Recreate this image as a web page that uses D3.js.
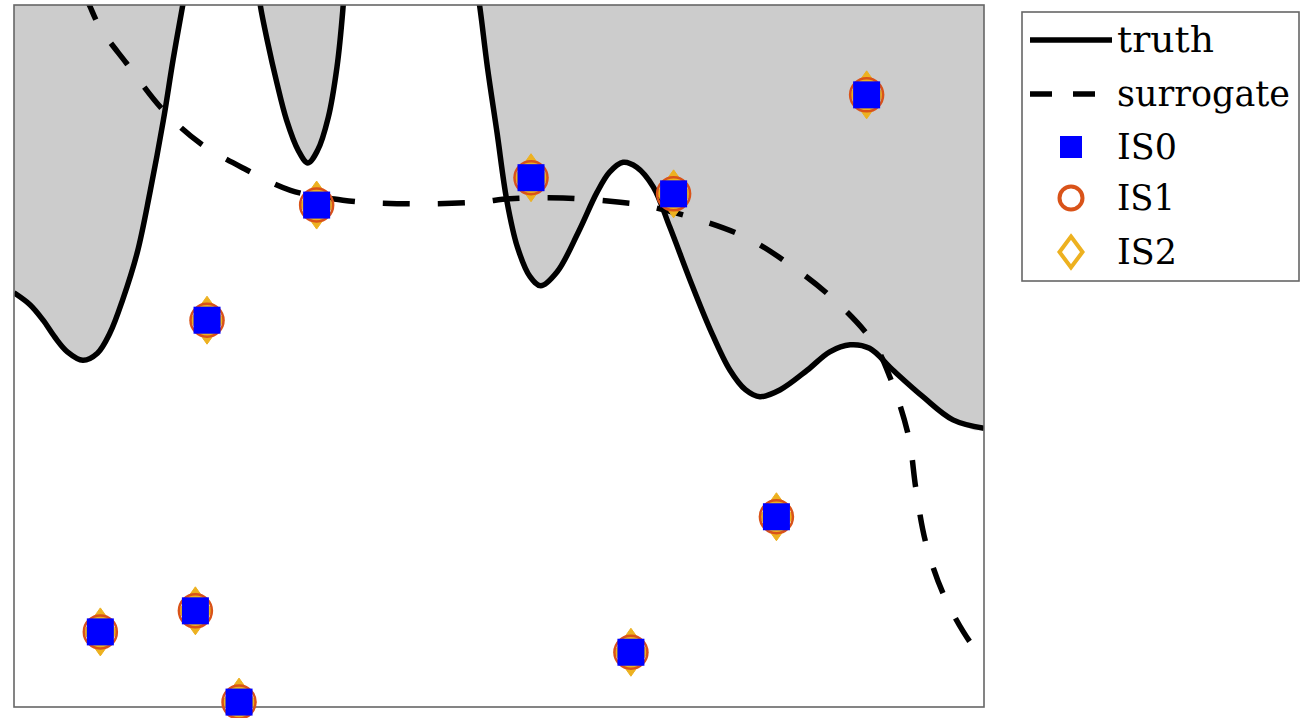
<!DOCTYPE html>
<html>
<head>
<meta charset="utf-8">
<script src="https://cdn.jsdelivr.net/npm/d3@7"></script>
<style>
  html, body { margin: 0; padding: 0; background: #ffffff; }
  svg { display: block; }
</style>
</head>
<body>
<svg id="chart" width="1312" height="718"></svg>
<script>
// ---- data (normalized domain coordinates, x in [0,1], y in [0,1]) ----
const truthA = [
  [0.000, 0.590], [0.0165, 0.573], [0.030, 0.551], [0.042, 0.527], [0.055, 0.506],
  [0.071, 0.494], [0.086, 0.504], [0.099, 0.533], [0.112, 0.580], [0.127, 0.647],
  [0.140, 0.732], [0.154, 0.836], [0.164, 0.922], [0.174, 1.000], [0.176, 1.014]
];
const truthB = [
  [0.253, 1.014], [0.254, 0.999], [0.261, 0.950], [0.271, 0.889], [0.281, 0.836],
  [0.293, 0.793], [0.303, 0.775], [0.313, 0.793], [0.324, 0.840], [0.333, 0.912],
  [0.339, 0.993], [0.340, 1.014]
];
const truthC = [
  [0.478, 1.014], [0.480, 0.999], [0.488, 0.912], [0.498, 0.818], [0.508, 0.722],
  [0.519, 0.655], [0.532, 0.613], [0.543, 0.600], [0.560, 0.620], [0.582, 0.677],
  [0.601, 0.733], [0.614, 0.762], [0.628, 0.776], [0.642, 0.769], [0.659, 0.741],
  [0.676, 0.684], [0.697, 0.608], [0.718, 0.537], [0.738, 0.480], [0.754, 0.452],
  [0.769, 0.442], [0.790, 0.452], [0.818, 0.480], [0.841, 0.506], [0.862, 0.516],
  [0.882, 0.511], [0.906, 0.480], [0.937, 0.442], [0.968, 0.409], [1.000, 0.397]
];
const surrogate = [
  [0.073, 1.014], [0.078, 0.999], [0.089, 0.967], [0.116, 0.917], [0.154, 0.850],
  [0.192, 0.803], [0.240, 0.765], [0.285, 0.736], [0.339, 0.722], [0.395, 0.717],
  [0.477, 0.719], [0.511, 0.724], [0.566, 0.725], [0.625, 0.719], [0.648, 0.715],
  [0.697, 0.698], [0.756, 0.668], [0.803, 0.627], [0.848, 0.577], [0.886, 0.519],
  [0.903, 0.470], [0.922, 0.387], [0.930, 0.309], [0.940, 0.234], [0.959, 0.158],
  [0.987, 0.090], [1.000, 0.071]
];
const samplesX = [0.312, 0.199, 0.533, 0.680, 0.879, 0.786, 0.089, 0.187, 0.232, 0.636];
const samplesY = [0.715, 0.551, 0.754, 0.731, 0.872, 0.271, 0.107, 0.137, 0.007, 0.078];
const legendLabels = ["truth", "surrogate", "IS0", "IS1", "IS2"];

// ---- layout ----
const svg = d3.select("#chart");
const plot = { left: 14, right: 984, top: 5, bottom: 707 };
const x = d3.scaleLinear().domain([0, 1]).range([plot.left, plot.right]);
const y = d3.scaleLinear().domain([0, 1]).range([plot.bottom, plot.top]);

const colIS0 = "#0000ff", colIS1 = "#d95319", colIS2 = "#edb120";

svg.append("defs").append("clipPath").attr("id", "clip")
  .append("rect")
  .attr("x", plot.left).attr("y", plot.top)
  .attr("width", plot.right - plot.left).attr("height", plot.bottom - plot.top);

const g = svg.append("g").attr("clip-path", "url(#clip)");

const line = d3.line().x(d => x(d[0])).y(d => y(d[1])).curve(d3.curveCatmullRom.alpha(0.5));

// gray infeasible regions (above the truth contour)
const fills = [
  [[0, 1.014]].concat(truthA),
  truthB,
  truthC.concat([[1, 1.014]])
];
fills.forEach(f => {
  g.append("path")
    .attr("d", line(f) + "Z")
    .attr("fill", "#cccccc")
    .attr("stroke", "none");
});

// truth contour
[truthA, truthB, truthC].forEach(seg => {
  g.append("path")
    .attr("d", line(seg))
    .attr("fill", "none")
    .attr("stroke", "#000")
    .attr("stroke-width", 5.5)
    .attr("stroke-linejoin", "round");
});

// surrogate contour
g.append("path")
  .attr("d", line(surrogate))
  .attr("fill", "none")
  .attr("stroke", "#000")
  .attr("stroke-width", 5.5)
  .attr("stroke-dasharray", "27,28")
  .attr("stroke-dashoffset", 0);

// frame
svg.append("rect")
  .attr("x", plot.left).attr("y", plot.top)
  .attr("width", plot.right - plot.left).attr("height", plot.bottom - plot.top)
  .attr("fill", "none").attr("stroke", "#666666").attr("stroke-width", 1.6);

// sample markers
const pts = samplesX.map((v, i) => [v, samplesY[i]]);
const mk = svg.append("g");
const diamond = (hw, hh) => `M0,${-hh}L${hw},0L0,${hh}L${-hw},0Z`;
mk.selectAll("path.is2").data(pts).join("path")
  .attr("class", "is2")
  .attr("transform", d => `translate(${x(d[0])},${y(d[1])})`)
  .attr("d", diamond(17, 24))
  .attr("fill", colIS2).attr("stroke", colIS2).attr("stroke-width", 1);
mk.selectAll("circle.is1").data(pts).join("circle")
  .attr("class", "is1")
  .attr("cx", d => x(d[0])).attr("cy", d => y(d[1])).attr("r", 16.5)
  .attr("fill", "none").attr("stroke", colIS1).attr("stroke-width", 2.5);
mk.selectAll("rect.is0").data(pts).join("rect")
  .attr("class", "is0")
  .attr("x", d => x(d[0]) - 13.5).attr("y", d => y(d[1]) - 13.5)
  .attr("width", 27).attr("height", 27)
  .attr("fill", colIS0);

// ---- legend ----
const lg = svg.append("g");
lg.append("rect")
  .attr("x", 1022).attr("y", 12).attr("width", 277).attr("height", 269)
  .attr("fill", "#fff").attr("stroke", "#666666").attr("stroke-width", 1.6);

const rowY = [40, 94, 147, 198, 252];
lg.append("line").attr("x1", 1030).attr("x2", 1112).attr("y1", rowY[0]).attr("y2", rowY[0])
  .attr("stroke", "#000").attr("stroke-width", 5.5);
lg.append("line").attr("x1", 1030).attr("x2", 1112).attr("y1", rowY[1]).attr("y2", rowY[1])
  .attr("stroke", "#000").attr("stroke-width", 5.5).attr("stroke-dasharray", "22,21");
lg.append("rect").attr("x", 1071 - 11).attr("y", rowY[2] - 11).attr("width", 22).attr("height", 22)
  .attr("fill", colIS0);
lg.append("circle").attr("cx", 1071).attr("cy", rowY[3]).attr("r", 11.5)
  .attr("fill", "none").attr("stroke", colIS1).attr("stroke-width", 4);
lg.append("path").attr("transform", `translate(1071,${rowY[4]})`).attr("d", diamond(11.5, 15.5))
  .attr("fill", "none").attr("stroke", colIS2).attr("stroke-width", 4);

const textW = [97, 173, 60, 58, 60];
lg.selectAll("text").data(legendLabels).join("text")
  .attr("x", 1117)
  .attr("y", (d, i) => rowY[i] + 12)
  .attr("font-family", "'DejaVu Serif', serif")
  .attr("font-size", 35)
  .attr("fill", "#000")
  .attr("textLength", (d, i) => textW[i])
  .attr("lengthAdjust", "spacingAndGlyphs")
  .text(d => d);
</script>
</body>
</html>
